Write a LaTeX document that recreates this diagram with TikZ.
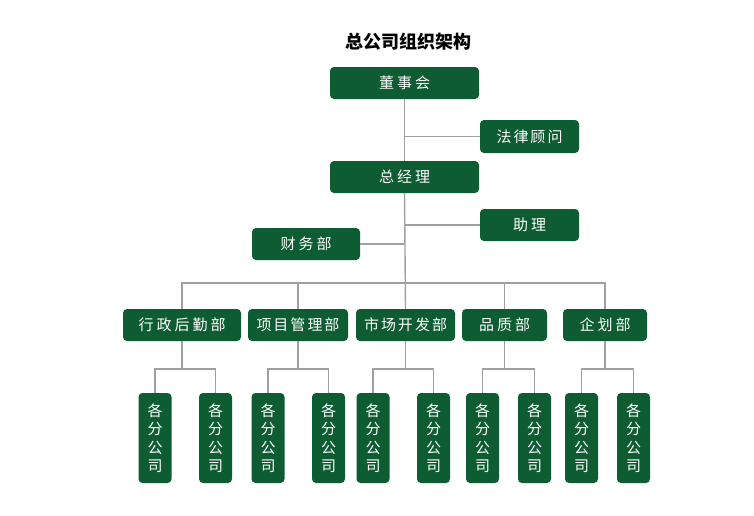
\documentclass[tikz,border=0pt]{standalone}
\usepackage{fontspec}
\newfontfamily\cjk{Noto Sans CJK SC}
\definecolor{boxgreen}{HTML}{0E5C32}
\definecolor{linegray}{HTML}{A0A0A0}
\begin{document}
\begin{tikzpicture}[x=1pt,y=-1pt,
  box/.style={draw=none,fill=boxgreen,rounded corners=4pt,text=white,font=\cjk\fontsize{15}{17}\selectfont,inner sep=0pt,anchor=center},
  subbox/.style={box,minimum width=33pt,minimum height=90pt,align=center,font=\cjk\fontsize{15}{18.5}\selectfont},
  conn/.style={draw=linegray,line width=1.4pt}]
\useasboundingbox (0,0) rectangle (754,515);
\fill[white] (0,0) rectangle (754,515);
\node (title) at (408,42) {\cjk\bfseries\fontsize{18}{20}\selectfont 总公司组织架构};
\node[box,minimum width=149pt,minimum height=32pt] (dsh) at (404.5,83) {董\hspace{3pt}事\hspace{3pt}会};
\node[box,minimum width=99pt,minimum height=33pt] (flgw) at (529.5,136.5) {法\hspace{2pt}律\hspace{2pt}顾\hspace{2pt}问};
\node[box,minimum width=149pt,minimum height=32pt] (zjl) at (404.5,177) {总\hspace{3pt}经\hspace{3pt}理};
\node[box,minimum width=99pt,minimum height=32pt] (zl) at (529.5,225) {助\hspace{3pt}理};
\node[box,minimum width=108pt,minimum height=32pt] (cwb) at (306,244) {财\hspace{3pt}务\hspace{3pt}部};
\node[box,minimum width=118pt,minimum height=32pt] (d1) at (182,325) {行\hspace{3pt}政\hspace{3pt}后\hspace{3pt}勤\hspace{3pt}部};
\node[box,minimum width=100pt,minimum height=32pt] (d2) at (298,325) {项\hspace{2pt}目\hspace{2pt}管\hspace{2pt}理\hspace{2pt}部};
\node[box,minimum width=99pt,minimum height=32pt] (d3) at (405.5,325) {市\hspace{2pt}场\hspace{2pt}开\hspace{2pt}发\hspace{2pt}部};
\node[box,minimum width=85pt,minimum height=32pt] (d4) at (504.5,325) {品\hspace{3pt}质\hspace{3pt}部};
\node[box,minimum width=84pt,minimum height=32pt] (d5) at (605,325) {企\hspace{3pt}划\hspace{3pt}部};
\foreach \n/\x in {s1/155,s2/215.5,s3/268,s4/328.5,s5/373,s6/433.5,s7/482.5,s8/534.5,s9/581.5,s10/633.5}
  \node[subbox] (\n) at (\x,438) {各\\分\\公\\司};
\coordinate (bus) at (0,283);
\coordinate (sb) at (0,369);
% trunk
\draw[conn] (dsh.south) -- (zjl.north);
\draw[conn] (zjl.south) -- (d3.north);
\draw[conn] (flgw.west) -- (flgw.west -| dsh.south);
\draw[conn] (zl.west) -- (zl.west -| zjl.south);
\draw[conn] (cwb.east) -- (cwb.east -| zjl.south);
% bus
\draw[conn] (d1.north) -- (d1.north |- bus) -- (d5.north |- bus) -- (d5.north);
\draw[conn] (d2.north) -- (d2.north |- bus);
\draw[conn] (d4.north) -- (d4.north |- bus);
% subsidiaries
\foreach \d/\a/\b in {d1/s1/s2,d2/s3/s4,d3/s5/s6,d4/s7/s8,d5/s9/s10}{
  \draw[conn] (\d.south) -- (\d.south |- sb);
  \draw[conn] (\a.north) |- (\b.north |- sb) -- (\b.north);
}
\end{tikzpicture}
\end{document}
